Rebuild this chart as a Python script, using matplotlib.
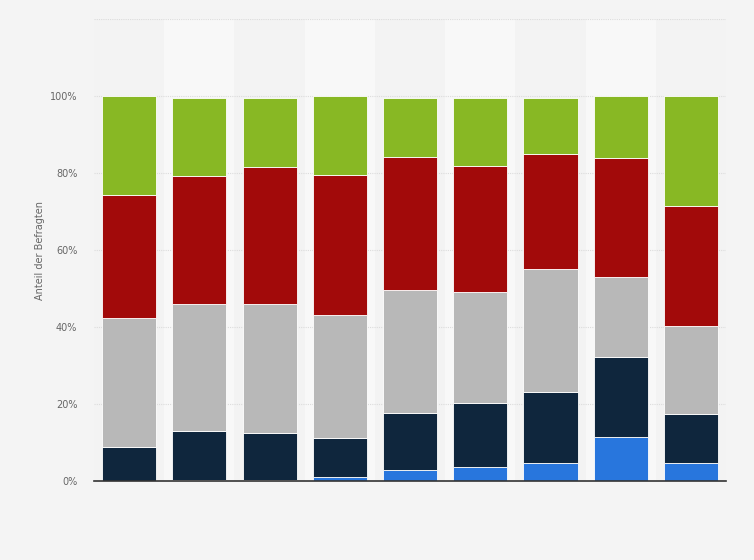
import matplotlib
matplotlib.use("Agg")
import matplotlib.pyplot as plt
import numpy as np

# nine groups, no category labels are shown on the x axis
groups = list(range(9))

# shares in percent, stacked bottom to top
blue = [0.0, 0.4, 0.4, 1.0, 2.9, 3.6, 4.7, 11.5, 4.7]
navy = [8.9, 12.6, 12.1, 10.2, 14.8, 16.7, 18.5, 20.8, 12.7]
gray = [33.5, 33.1, 33.6, 32.0, 31.8, 28.7, 31.8, 20.8, 23.0]
red = [31.8, 33.1, 35.4, 36.2, 34.6, 32.8, 29.9, 30.8, 31.0]
green = [25.8, 20.3, 18.0, 20.6, 15.5, 17.8, 14.7, 16.1, 28.6]

series = [blue, navy, gray, red, green]
colors = ["#2876dd", "#0f263d", "#b8b8b8", "#a20a0a", "#88b824"]

ytick_vals = [0, 20, 40, 60, 80, 100, 120]
ytick_labels = ["0%", "20%", "40%", "60%", "80%", "100%", ""]

fig = plt.figure(figsize=(7.54, 5.6), dpi=100)
fig.patch.set_facecolor("#f4f4f4")
ax = fig.add_axes([0.1247, 0.141, 0.8383, 0.825])
ax.set_facecolor("#f3f3f3")

x = np.arange(len(groups))

# lighter background band behind every second column
for i in x:
    if i % 2 == 1:
        ax.axvspan(i - 0.5, i + 0.5, color="#f8f8f8", zorder=0, lw=0)

bottom = np.zeros(len(groups))
for vals, c in zip(series, colors):
    ax.bar(x, vals, width=0.77, bottom=bottom, color=c,
           edgecolor="white", linewidth=0.6, zorder=3)
    bottom += np.array(vals)

ax.set_xlim(-0.5, len(groups) - 0.5)
ax.set_ylim(0, 120)
ax.set_yticks(ytick_vals, labels=ytick_labels)
ax.set_xticks([])
ax.yaxis.grid(True, color="#dcdcdc", linestyle=(0, (1, 1)), linewidth=0.8, zorder=1)

for side in ["top", "right", "left"]:
    ax.spines[side].set_visible(False)
ax.spines["bottom"].set_color("#333333")
ax.spines["bottom"].set_linewidth(1.2)
ax.spines["bottom"].set_zorder(4)

ax.tick_params(axis="y", length=0, labelsize=7, labelcolor="#666666", pad=12)
ax.set_ylabel("Anteil der Befragten", fontsize=7, color="#666666", labelpad=3.5)

plt.savefig("out.png", dpi=100, facecolor=fig.get_facecolor())
